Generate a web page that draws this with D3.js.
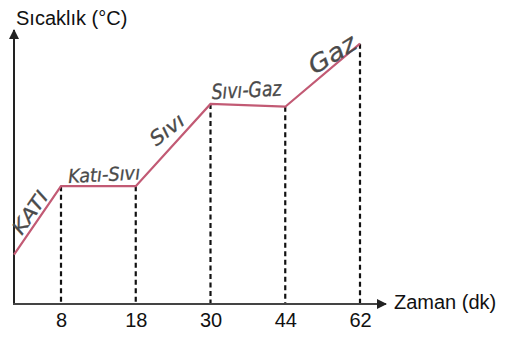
<!DOCTYPE html>
<html><head><meta charset="utf-8">
<script src="https://cdn.jsdelivr.net/npm/d3@7"></script>
<style>body{margin:0;background:#fff}</style>
</head><body>
<svg id="c" width="508" height="338"></svg>
<script>
const ticks = ["8","18","30","44","62"];
const times = [0, 8, 18, 30, 44, 62];
const temps = [18, 43, 43, 73, 72, 95];
const phases = [
  {label:"KATI", from:0, to:1, rot:-55, dx:-2, dy:-4, size:19, len:48},
  {label:"Katı-Sıvı", from:1, to:2, rot:-3, dx:6, dy:-5, size:19, len:72},
  {label:"Sıvı", from:2, to:3, rot:-38, dx:-2, dy:-10, size:20, len:38},
  {label:"Sıvı-Gaz", from:3, to:4, rot:-3, dx:-1, dy:-8, size:21, len:70},
  {label:"Gaz", from:4, to:5, rot:-32, dx:14, dy:-14, size:24, len:52}
];
const svg = d3.select("#c");
const x0 = 14, yBase = 304, yTop = 30, xEnd = 386;
const xp = d3.scalePoint().domain(ticks).range([61, 360]);
const X = t => t === 0 ? x0 : xp(String(t));
const y = d3.scaleLinear().domain([0, 100]).range([yBase, yTop]);
const pts = times.map((t,i)=>[X(t), y(temps[i])]);
const font = "Liberation Sans, Arial, sans-serif";

// dashed guides
svg.selectAll("line.g").data(times.slice(1)).enter().append("line")
  .attr("x1", d=>X(d)).attr("x2", d=>X(d))
  .attr("y1", (d,i)=>y(temps[i+1])).attr("y2", yBase)
  .attr("stroke","#111").attr("stroke-width",2.2).attr("stroke-dasharray","5,3.5");

// axes
svg.append("defs").append("marker").attr("id","ar").attr("viewBox","0 0 10 10")
  .attr("refX",9).attr("refY",5).attr("markerWidth",5).attr("markerHeight",5)
  .attr("orient","auto").append("path").attr("d","M0,0L10,5L0,10z").attr("fill","#222");
svg.append("line").attr("x1",x0).attr("y1",yBase+1).attr("x2",x0).attr("y2",yTop)
  .attr("stroke","#222").attr("stroke-width",2).attr("marker-end","url(#ar)");
svg.append("line").attr("x1",x0-1).attr("y1",yBase).attr("x2",xEnd).attr("y2",yBase)
  .attr("stroke","#444").attr("stroke-width",2).attr("marker-end","url(#ar)");

// x axis labels
const ax = d3.axisBottom(xp).tickSize(0).tickPadding(9);
const g = svg.append("g").attr("transform",`translate(0,${yBase})`).call(ax);
g.select(".domain").remove();
g.selectAll("text").attr("font-family",font).attr("font-size",20).attr("fill","#111");

// curve
svg.append("path").datum(pts).attr("d", d3.line())
  .attr("fill","none").attr("stroke","#c25a74").attr("stroke-width",2.2);

// axis titles
svg.append("text").attr("x",16).attr("y",25).text("Sıcaklık (°C)")
  .attr("font-family",font).attr("font-size",20).attr("fill","#111");
svg.append("text").attr("x",394).attr("y",309).text("Zaman (dk)")
  .attr("font-family",font).attr("font-size",20).attr("fill","#111");

// phase labels
phases.forEach(p=>{
  const a = pts[p.from], b = pts[p.to];
  const cx = (a[0]+b[0])/2 + p.dx, cy = (a[1]+b[1])/2 + p.dy;
  svg.append("text").attr("transform",`translate(${cx},${cy}) rotate(${p.rot})`)
    .attr("text-anchor","middle").text(p.label)
    .attr("font-family","DejaVu Sans, sans-serif").attr("font-style","italic")
    .attr("font-size",p.size).attr("fill","#4a4a4a").attr("stroke","#4a4a4a").attr("stroke-width",0.3)
    .attr("textLength", p.len).attr("lengthAdjust","spacingAndGlyphs");
});
</script>
</body></html>
